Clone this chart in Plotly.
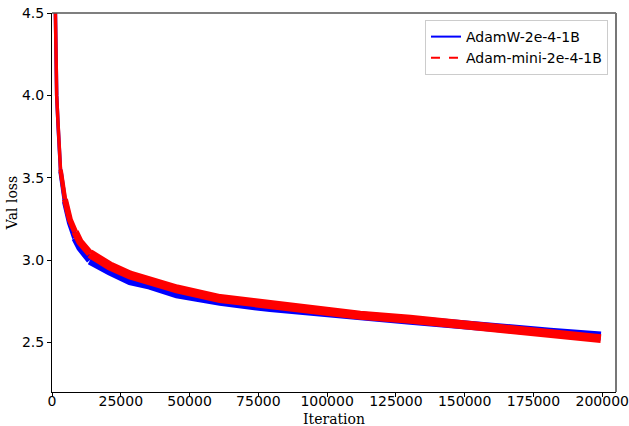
import plotly.graph_objects as go

iterations = [500, 1100, 1700, 2200, 2650, 3100, 3500, 4700, 6500, 8400, 10200, 13800,
              17450, 21000, 28400, 35600, 45400, 61100, 79300, 97500, 112000, 130200,
              148400, 162900, 181100, 199500]
adamw_loss = [5.3, 4.5, 4.0, 3.82, 3.66, 3.54, 3.49, 3.355, 3.228, 3.134, 3.075, 3.0,
              2.963, 2.935, 2.875, 2.848, 2.795, 2.75, 2.712, 2.68, 2.657, 2.636,
              2.609, 2.585, 2.563, 2.54]
adam_mini_loss = [5.3, 4.5, 4.0, 3.83, 3.67, 3.55, 3.50, 3.37, 3.245, 3.172, 3.11, 3.04,
                  3.0, 2.965, 2.91, 2.875, 2.825, 2.767, 2.727, 2.692, 2.666, 2.641,
                  2.611, 2.579, 2.55, 2.524]
series_names = ["AdamW-2e-4-1B", "Adam-mini-2e-4-1B"]
x_ticks = [0, 25000, 50000, 75000, 100000, 125000, 150000, 175000, 200000]
y_ticks = [2.5, 3.0, 3.5, 4.0, 4.5]

# line-width segments (index ranges into the arrays) to mimic the noise band thickness
segments = [(0, 5, 3.5), (5, 7, 4.5), (7, 9, 6), (9, 11, 7.5), (11, len(iterations) - 1, 9)]

fig = go.Figure()
for ys, color in [(adamw_loss, "#0000ff"), (adam_mini_loss, "#ff0000")]:
    for a, b, w in segments:
        fig.add_trace(go.Scatter(x=iterations[a:b + 1], y=ys[a:b + 1], mode="lines",
                                 line=dict(color=color, width=w), showlegend=False,
                                 hoverinfo="skip"))

fig.add_trace(go.Scatter(x=[None], y=[None], mode="lines", name=series_names[0],
                         line=dict(color="#0000ff", width=2)))
fig.add_trace(go.Scatter(x=[None], y=[None], mode="lines", name=series_names[1],
                         line=dict(color="#ff0000", width=2, dash="dash")))

fig.update_layout(
    width=629, height=426,
    margin=dict(l=52, r=13, t=13, b=34),
    paper_bgcolor="white", plot_bgcolor="white",
    font=dict(family="DejaVu Sans", size=14, color="#000000"),
    showlegend=True,
    legend=dict(x=0.9858, y=0.9815, xanchor="right", yanchor="top",
                bgcolor="rgba(255,255,255,0.8)", bordercolor="#cccccc", borderwidth=1,
                font=dict(family="DejaVu Sans", size=14), tracegroupgap=0,
                itemwidth=30),
    xaxis=dict(range=[0, 205000], tickvals=x_ticks, ticktext=[str(v) for v in x_ticks],
               showgrid=False, zeroline=False, showline=True, linecolor="#000000", linewidth=1,
               ticks="outside", ticklen=4, tickcolor="#000000", automargin=False,
               ticklabelstandoff=-8),
    yaxis=dict(range=[2.2, 4.5], tickvals=y_ticks, ticktext=[f"{v:.1f}" for v in y_ticks],
               showgrid=False, zeroline=False, showline=True, linecolor="#000000", linewidth=1,
               ticks="outside", ticklen=4, tickcolor="#000000", automargin=False,
               title=dict(text="Val loss", font=dict(family="DejaVu Serif", size=14), standoff=1)),
    annotations=[
        dict(text="Iteration", xref="paper", yref="paper", x=0.5, y=0, xanchor="center",
             yanchor="middle", yshift=-27, showarrow=False,
             font=dict(family="DejaVu Serif", size=14, color="#000000")),
    ],
    shapes=[
        dict(type="line", xref="paper", yref="paper", x0=0, x1=1, y0=1, y1=1,
             line=dict(color="#555555", width=1.5)),
        dict(type="line", xref="paper", yref="paper", x0=1, x1=1, y0=0, y1=1,
             line=dict(color="#777777", width=2)),
    ],
)
fig.write_html("out.html", config={"displayModeBar": False},
               post_script="document.body.style.margin='0';document.body.style.overflow='hidden';")
